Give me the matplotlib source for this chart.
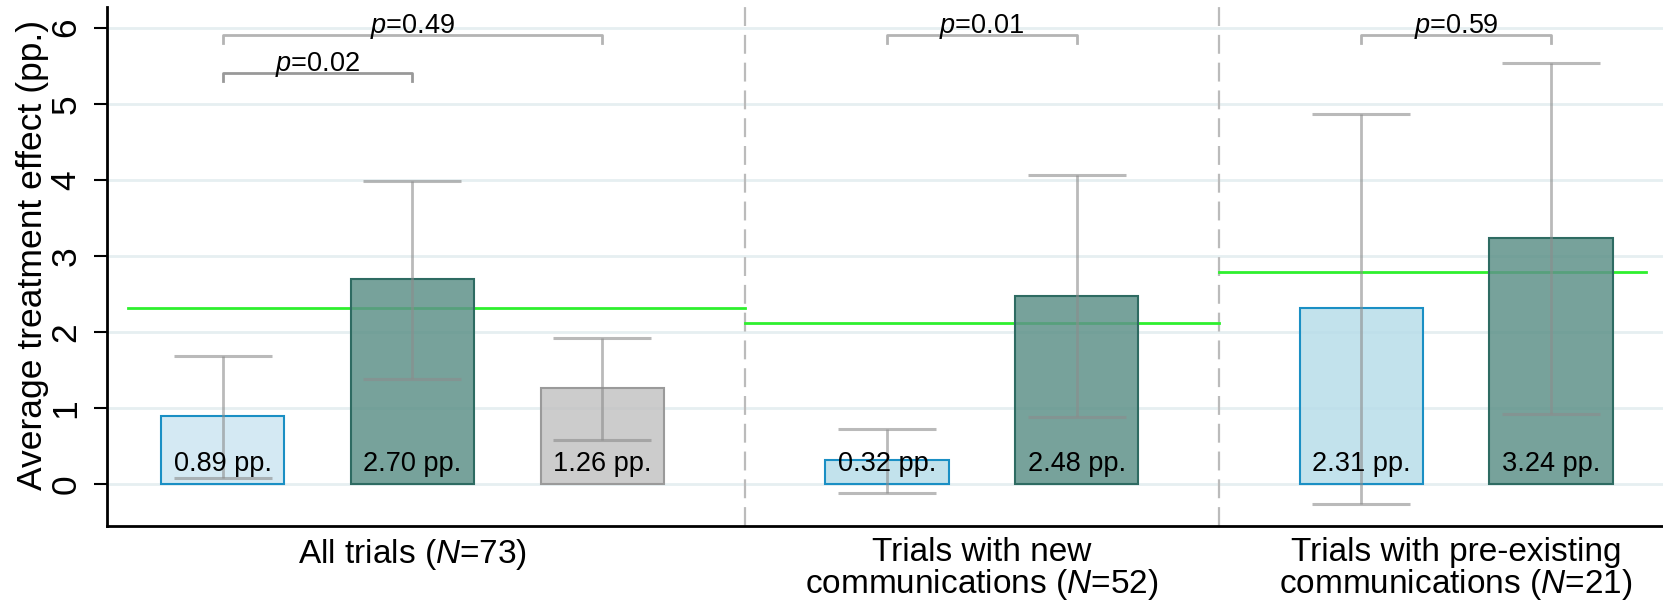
import numpy as np
import matplotlib
matplotlib.use('Agg')
import matplotlib.pyplot as plt
from matplotlib.colors import to_rgba

plt.rcParams['font.family'] = ['Liberation Sans', 'DejaVu Sans']
plt.rcParams['mathtext.fontset'] = 'custom'
plt.rcParams['mathtext.it'] = 'Liberation Sans:italic'
plt.rcParams['mathtext.rm'] = 'Liberation Sans'

# data
group_labels = ['All trials ($N$=73)',
                'Trials with new\ncommunications ($N$=52)',
                'Trials with pre-existing\ncommunications ($N$=21)']
group_sizes = [3, 2, 2]
effects = [0.89, 2.70, 1.26, 0.32, 2.48, 2.31, 3.24]
ci_low = [0.08, 1.38, 0.58, -0.11, 0.88, -0.26, 0.92]
ci_high = [1.69, 3.99, 1.92, 0.73, 4.07, 4.87, 5.54]
group_means = [2.32, 2.12, 2.79]
# brackets: (bar i, bar j, p text, level)
brackets = [(0, 1, '$p$=0.02', 0), (0, 2, '$p$=0.49', 1),
            (3, 4, '$p$=0.01', 1), (5, 6, '$p$=0.59', 1)]

fill_colors = ['#cde6f1', '#5f928a', '#c3c3c3', '#b8dde9', '#5f928a', '#b8dde9', '#5f928a']
edge_colors = ['#1a8fc4', '#2e6b62', '#9a9a9a', '#1a8fc4', '#2e6b62', '#1a8fc4', '#2e6b62']

# x layout: groups separated by an extra half slot
pos = []
bounds = []
x = 0.0
for k, n in enumerate(group_sizes):
    start = x
    for i in range(n):
        pos.append(x)
        x += 1
    bounds.append((start, x - 1))
    x += 0.5
pos = np.array(pos)
group_centers = [(a + b) / 2 for a, b in bounds]
dividers = [(bounds[k][1] + bounds[k + 1][0]) / 2 for k in range(len(bounds) - 1)]

fig = plt.figure(figsize=(16.63, 6), dpi=100)
ax = fig.add_axes([0.0643, 0.1233, 0.9357, 0.8647])

ax.set_xlim(-0.61, pos[-1] + 0.59)
ax.set_ylim(-0.55, 6.27)

ax.yaxis.grid(True, color='#e6eff1', lw=2)
ax.set_axisbelow(True)

# green group-mean lines
edges = [-0.5] + dividers + [pos[-1] + 0.5]
for k, m in enumerate(group_means):
    ax.plot([edges[k], edges[k + 1]], [m, m], color='#2ef02e', lw=2, zorder=1.5)

for d in dividers:
    ax.axvline(d, color='#bbbbbb', lw=1.6, linestyle=(0, (8.5, 4)), zorder=1.2)

ax.bar(pos, effects, width=0.65, color=[to_rgba(c, 0.85) for c in fill_colors],
       edgecolor=edge_colors, linewidth=1.5, zorder=2)

eff = np.array(effects)
yerr = [eff - np.array(ci_low), np.array(ci_high) - eff]
ax.errorbar(pos, eff, yerr=yerr, fmt='none', ecolor='#8c8c8c', elinewidth=2,
            capsize=35, capthick=2.2, alpha=0.6, zorder=3)

for p, v in zip(pos, effects):
    ax.text(p, 0.27, f'{v:.2f} pp.', ha='center', va='center', fontsize=19.5, zorder=4)

for i, j, txt, lev in brackets:
    y = 5.40 if lev == 0 else 5.90
    col = '#999999' if lev == 0 else '#b4b4b4'
    ax.plot([pos[i], pos[i], pos[j], pos[j]], [y - 0.1, y, y, y - 0.1],
            color=col, lw=2, zorder=3)
    ax.text((pos[i] + pos[j]) / 2, y + 0.03, txt, ha='center', va='baseline', fontsize=19.5)

ax.set_yticks(range(0, 7))
ax.tick_params(axis='y', labelrotation=90, labelsize=25.5, length=9.5, width=1.5, pad=8)
for t in ax.get_yticklabels():
    t.set_va('center')
ax.set_xticks(group_centers)
ax.set_xticklabels(group_labels, fontsize=24, linespacing=0.95)
ax.tick_params(axis='x', length=0, pad=8)

for s in ['top', 'right']:
    ax.spines[s].set_visible(False)
for s in ['left', 'bottom']:
    ax.spines[s].set_linewidth(2)

fig.text(0.0195, 0.575, 'Average treatment effect (pp.)', rotation=90,
         ha='center', va='center', fontsize=25.5)

fig.savefig('out.png', dpi=100)
